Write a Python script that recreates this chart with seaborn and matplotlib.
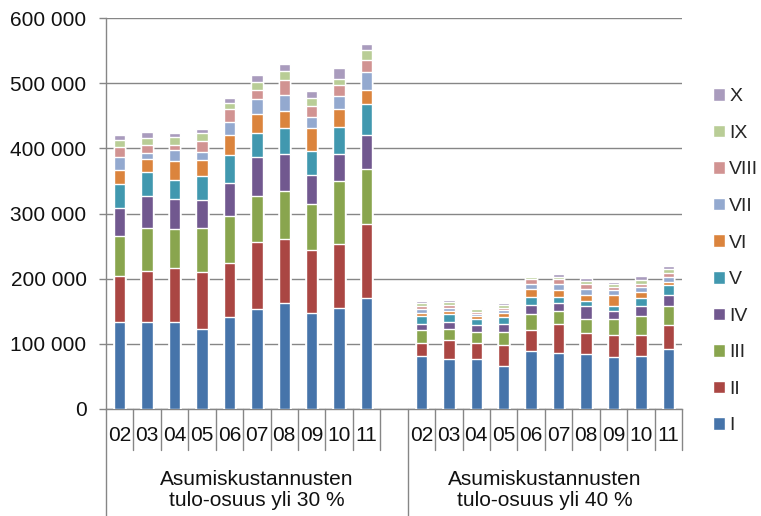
import numpy as np
import pandas as pd
import seaborn as sns
import matplotlib.pyplot as plt
import matplotlib.transforms as mtrans
from matplotlib.patches import Patch
from matplotlib.ticker import FuncFormatter

years = ["02", "03", "04", "05", "06", "07", "08", "09", "10", "11"]
deciles = ["I", "II", "III", "IV", "V", "VI", "VII", "VIII", "IX", "X"]
colors = ["#4674AA", "#AA4643", "#89A54E", "#71588F", "#4198AF",
          "#DB843D", "#93A9CF", "#D19392", "#B9CD96", "#A99BBD"]
group_labels = ["Asumiskustannusten\ntulo-osuus yli 30 %",
                "Asumiskustannusten\ntulo-osuus yli 40 %"]

# households, thousands, by income decile
over30 = {
    "I":    [133, 133, 133, 123, 140.5, 153.4, 162.6, 147.7, 155.4, 170.2],
    "II":   [71, 79, 84, 87, 83.5, 102.6, 98, 96.2, 98.1, 113.5],
    "III":  [62, 66, 59, 68.5, 71.4, 71.6, 74, 71.4, 96.2, 85.3],
    "IV":   [42, 49, 47, 42, 51.6, 59.4, 57, 44.1, 41.9, 52.2],
    "V":    [37, 36, 29, 37.4, 42.6, 36.3, 39.4, 37.2, 41.8, 46.6],
    "VI":   [22, 20, 28, 24.6, 31.6, 30.1, 27, 34.4, 27.2, 21.9],
    "VII":  [19.5, 10, 17, 12, 19.8, 22.1, 24.5, 17.3, 19.9, 27.2],
    "VIII": [15, 12, 8, 17.5, 19.6, 14.2, 22, 17.3, 16.9, 19.3],
    "IX":   [12, 11, 12, 12, 9.6, 12.8, 14.7, 12.4, 9.6, 14.8],
    "X":    [7, 9, 7, 5.5, 7.8, 9.7, 10.3, 9.7, 17, 9.7],
}
over40 = {
    "I":    [81.3, 76.7, 76.7, 66.4, 89, 86.3, 83.7, 79.1, 81.3, 91.4],
    "II":   [19.3, 29.6, 23.9, 31.8, 31.6, 44.5, 32.3, 34.4, 32.2, 36.8],
    "III":  [20, 16.9, 17.5, 19.9, 24.5, 19.5, 22, 24.5, 29.6, 29.2],
    "IV":   [10.2, 9.6, 10.1, 12.7, 14.9, 12.3, 19.4, 12.3, 14.9, 17.4],
    "V":    [12.3, 12.9, 9.8, 9.7, 12.2, 9.6, 7.6, 7.7, 12.2, 14.8],
    "VI":   [4.6, 4.6, 4.6, 7.2, 12.3, 9.7, 9.8, 16.8, 9.7, 5.2],
    "VII":  [5.7, 4, 3.1, 3.5, 7.7, 10.3, 9.7, 7.7, 7.2, 7],
    "VIII": [4, 5.2, 3.1, 3.7, 6.6, 7.2, 7.7, 4.6, 5.1, 7.2],
    "IX":   [4.6, 5.1, 4.6, 4.6, 3, 3.5, 3.5, 5.1, 5, 5.1],
    "X":    [3, 3, 2, 3.5, 2.6, 4.1, 4.6, 2.6, 6.8, 4.6],
}

rows = []
for grp, table in (("30", over30), ("40", over40)):
    for d in deciles:
        for y, v in zip(years, table[d]):
            rows.append({"cat": grp + "_" + y, "decile": d, "value": v * 1000})
df = pd.DataFrame(rows)
df["decile"] = pd.Categorical(df["decile"], deciles, ordered=True)
df = df.sort_values(["cat", "decile"])
df["top"] = df.groupby("cat")["value"].cumsum()

order = ["30_" + y for y in years] + ["gap"] + ["40_" + y for y in years]

sns.set_style("white")
plt.rcParams["font.family"] = ["Liberation Sans", "DejaVu Sans"]
gray = "#868686"
fs = 15

fig = plt.figure(figsize=(7.61, 5.16), dpi=100)
ax = fig.add_axes([106 / 761, 107 / 516, 576 / 761, 391 / 516])

# stacked bars: draw cumulative tops from the highest decile down
for d, c in zip(deciles[::-1], colors[::-1]):
    sub = df[df["decile"] == d]
    sns.barplot(data=sub, x="cat", y="top", order=order, color=c,
                saturation=1, width=0.42, errorbar=None, ax=ax, zorder=3)

ax.set_xlim(-0.5, 20.5)
ax.set_ylim(0, 600000)
ax.set_yticks(np.arange(0, 600001, 100000))
ax.yaxis.set_major_formatter(FuncFormatter(lambda v, p: f"{int(v):,}".replace(",", " ")))
ax.set_xticks([])
ax.set_xlabel("")
ax.set_ylabel("")
ax.set_axisbelow(True)
ax.yaxis.grid(True, color=gray, lw=1)
ax.tick_params(axis="y", left=True, length=5, width=1, color=gray, pad=9, labelsize=fs, labelcolor="#111111")
for s in ["top", "right"]:
    ax.spines[s].set_visible(False)
for s in ["left", "bottom"]:
    ax.spines[s].set_color(gray)
    ax.spines[s].set_linewidth(1)

# multi-level category axis
trans = mtrans.blended_transform_factory(ax.transData, ax.transAxes)
for b in np.arange(-0.5, 21):
    bot = -0.274 if b in (-0.5, 10.5) else -0.105
    ax.plot([b, b], [0, bot], transform=trans, color=gray, lw=1, clip_on=False)
for i, y in enumerate(years):
    ax.text(i, -0.067, y, transform=trans, ha="center", va="center", fontsize=fs, color="#111111")
    ax.text(11 + i, -0.067, y, transform=trans, ha="center", va="center", fontsize=fs, color="#111111")
ax.text(5.0, -0.208, group_labels[0], transform=trans, ha="center", va="center",
        fontsize=fs, linespacing=1.15, color="#111111")
ax.text(15.5, -0.208, group_labels[1], transform=trans, ha="center", va="center",
        fontsize=fs, linespacing=1.15, color="#111111")

handles = [Patch(facecolor=c, label=d) for d, c in zip(deciles[::-1], colors[::-1])]
fig.legend(handles=handles, loc="upper left", bbox_to_anchor=(713 / 761, 1 - 88 / 516),
           frameon=False, fontsize=14, handlelength=0.62, handleheight=0.62,
           handletextpad=0.22, labelspacing=1.0, borderpad=0, borderaxespad=0)

fig.savefig("out.png", dpi=100)
